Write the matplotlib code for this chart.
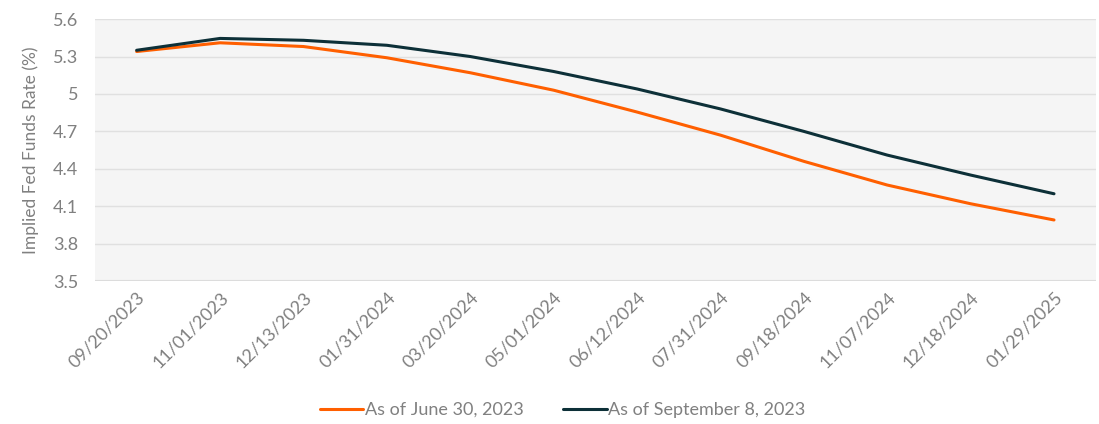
import matplotlib
matplotlib.use("Agg")
import matplotlib.pyplot as plt

dates = ['09/20/2023', '11/01/2023', '12/13/2023', '01/31/2024', '03/20/2024', '05/01/2024',
         '06/12/2024', '07/31/2024', '09/18/2024', '11/07/2024', '12/18/2024', '01/29/2025']
june_30 = [5.34, 5.41, 5.38, 5.29, 5.17, 5.03, 4.855, 4.67, 4.46, 4.27, 4.12, 3.99]
sept_8 = [5.35, 5.445, 5.43, 5.39, 5.30, 5.18, 5.04, 4.88, 4.70, 4.51, 4.35, 4.20]
yticks = [3.5, 3.8, 4.1, 4.4, 4.7, 5.0, 5.3, 5.6]
ytick_labels = ['3.5', '3.8', '4.1', '4.4', '4.7', '5', '5.3', '5.6']

plt.rcParams['font.family'] = ['Lato', 'DejaVu Sans']
text_color = '#808080'

fig = plt.figure(figsize=(10.99, 4.24), dpi=100)
ax = fig.add_axes([0.0864, 0.337, 0.9106, 0.618])
ax.set_facecolor('#f5f5f5')

x = list(range(len(dates)))
ax.plot(x, june_30, color='#ff5f00', linewidth=2.2, label='As of June 30, 2023',
        solid_capstyle='round')
ax.plot(x, sept_8, color='#0d3038', linewidth=2.2, label='As of September 8, 2023',
        solid_capstyle='round')

ax.set_xlim(-0.5, len(dates) - 0.5)
ax.set_ylim(3.5, 5.6)
ax.set_yticks(yticks)
ax.set_yticklabels(ytick_labels)
ax.set_xticks(x)
ax.set_xticklabels(dates, rotation=45, ha='right', rotation_mode='anchor')

ax.grid(axis='y', color='#e0e0e0', linewidth=1)
ax.set_axisbelow(True)
for s in ax.spines.values():
    s.set_visible(False)
ax.axhline(3.5, color='#dcdcdc', linewidth=1.5, zorder=1)
ax.tick_params(axis='both', length=0, labelsize=13, colors=text_color)
ax.tick_params(axis='y', pad=12)
ax.tick_params(axis='x', pad=6)

ax.set_ylabel('Implied Fed Funds Rate (%)', fontsize=12.5, color=text_color, labelpad=10)

fig.legend(loc='center', bbox_to_anchor=(0.512, 0.033), ncol=2, frameon=False,
           fontsize=13, labelcolor=text_color, handlelength=2.4, handletextpad=0.1,
           columnspacing=2.2)

fig.savefig('out.png', dpi=100)
